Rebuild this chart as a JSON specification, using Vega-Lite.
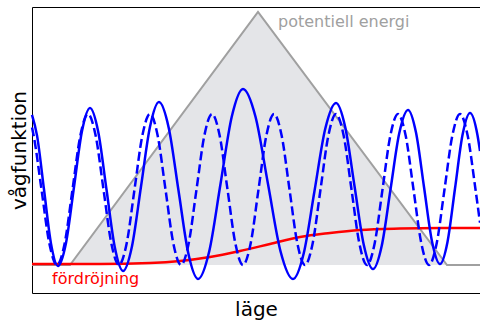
{
  "$schema": "https://vega.github.io/schema/vega-lite/v6.json",
  "width": 448,
  "height": 286,
  "autosize": {"type": "none"},
  "padding": {"left": 32, "top": 7, "right": 0, "bottom": 27},
  "background": "white",
  "config": {
    "view": {"stroke": "black", "strokeWidth": 1},
    "axis": {"labels": false, "ticks": false, "grid": false, "domain": false, "titleFont": "DejaVu Sans", "titleFontSize": 20, "titleFontWeight": "normal", "titleColor": "black"},
    "text": {"font": "DejaVu Sans"}
  },
  "datasets": {
    "potential": [
      {"x": 0, "y": 28}, {"x": 38, "y": 28}, {"x": 226, "y": 281}, {"x": 415, "y": 28}, {"x": 448, "y": 28}
    ],
    "delay": [
      {"x": 0, "y": 29}, {"x": 68, "y": 29}, {"x": 118, "y": 30}, {"x": 148, "y": 32}, {"x": 178, "y": 36},
      {"x": 208, "y": 42}, {"x": 238, "y": 49}, {"x": 268, "y": 56}, {"x": 298, "y": 60}, {"x": 328, "y": 63},
      {"x": 368, "y": 64.5}, {"x": 408, "y": 65}, {"x": 448, "y": 65}
    ],
    "free": [
      {"x": 0, "y": 165.5}, {"x": 1.75, "y": 156.9}, {"x": 9.5, "y": 103.5}, {"x": 17.25, "y": 50.1}, {"x": 25, "y": 28},
      {"x": 32.75, "y": 50.1}, {"x": 40.5, "y": 103.5}, {"x": 48.25, "y": 156.9}, {"x": 56, "y": 179},
      {"x": 63.75, "y": 156.9}, {"x": 71.5, "y": 103.5}, {"x": 79.25, "y": 50.1}, {"x": 87, "y": 28},
      {"x": 94.75, "y": 50.1}, {"x": 102.5, "y": 103.5}, {"x": 110.25, "y": 156.9}, {"x": 118, "y": 179},
      {"x": 125.75, "y": 156.9}, {"x": 133.5, "y": 103.5}, {"x": 141.25, "y": 50.1}, {"x": 149, "y": 28},
      {"x": 156.75, "y": 50.1}, {"x": 164.5, "y": 103.5}, {"x": 172.25, "y": 156.9}, {"x": 180, "y": 179},
      {"x": 187.75, "y": 156.9}, {"x": 195.5, "y": 103.5}, {"x": 203.25, "y": 50.1}, {"x": 211, "y": 28},
      {"x": 218.75, "y": 50.1}, {"x": 226.5, "y": 103.5}, {"x": 234.25, "y": 156.9}, {"x": 242, "y": 179},
      {"x": 249.75, "y": 156.9}, {"x": 257.5, "y": 103.5}, {"x": 265.25, "y": 50.1}, {"x": 273, "y": 28},
      {"x": 280.75, "y": 50.1}, {"x": 288.5, "y": 103.5}, {"x": 296.25, "y": 156.9}, {"x": 304, "y": 179},
      {"x": 311.75, "y": 156.9}, {"x": 319.5, "y": 103.5}, {"x": 327.25, "y": 50.1}, {"x": 335, "y": 28},
      {"x": 342.75, "y": 50.1}, {"x": 350.5, "y": 103.5}, {"x": 358.25, "y": 156.9}, {"x": 366, "y": 179},
      {"x": 373.75, "y": 156.9}, {"x": 381.5, "y": 103.5}, {"x": 389.25, "y": 50.1}, {"x": 397, "y": 28},
      {"x": 404.75, "y": 50.1}, {"x": 412.5, "y": 103.5}, {"x": 420.25, "y": 156.9}, {"x": 428, "y": 179},
      {"x": 435.75, "y": 156.9}, {"x": 443.5, "y": 103.5}, {"x": 448, "y": 70.3}
    ],
    "wave": [
      {"x": 0, "y": 178.1}, {"x": 5, "y": 157.6}, {"x": 12, "y": 103.5}, {"x": 19, "y": 49.4}, {"x": 26, "y": 27},
      {"x": 34, "y": 50.1}, {"x": 42, "y": 106}, {"x": 50, "y": 161.9}, {"x": 58, "y": 185},
      {"x": 66.25, "y": 161.1}, {"x": 74.5, "y": 103.5}, {"x": 82.75, "y": 45.9}, {"x": 91, "y": 22},
      {"x": 100, "y": 46.8}, {"x": 109, "y": 106.5}, {"x": 118, "y": 166.2}, {"x": 127, "y": 191},
      {"x": 136.75, "y": 165.1}, {"x": 146.5, "y": 102.5}, {"x": 156.25, "y": 39.9}, {"x": 166, "y": 14},
      {"x": 177.25, "y": 41.8}, {"x": 188.5, "y": 109}, {"x": 199.75, "y": 176.2}, {"x": 211, "y": 204},
      {"x": 223.5, "y": 176.2}, {"x": 236, "y": 109}, {"x": 248.5, "y": 41.8}, {"x": 261, "y": 14},
      {"x": 271.75, "y": 39.8}, {"x": 282.5, "y": 102}, {"x": 293.25, "y": 164.2}, {"x": 304, "y": 190},
      {"x": 313.25, "y": 165.7}, {"x": 322.5, "y": 107}, {"x": 331.75, "y": 48.3}, {"x": 341, "y": 24},
      {"x": 349.75, "y": 47.3}, {"x": 358.5, "y": 103.5}, {"x": 367.25, "y": 159.7}, {"x": 376, "y": 183},
      {"x": 384, "y": 160.4}, {"x": 392, "y": 106}, {"x": 400, "y": 51.6}, {"x": 408, "y": 29},
      {"x": 415.5, "y": 51.1}, {"x": 423, "y": 104.5}, {"x": 430.5, "y": 157.9}, {"x": 438, "y": 180},
      {"x": 445.5, "y": 157.7}, {"x": 448, "y": 142}
    ],
    "labels": [
      {"x": 246, "y": 266, "label": "potentiell energi", "kind": "pot"},
      {"x": 20, "y": 9, "label": "fördröjning", "kind": "delay"}
    ]
  },
  "encoding": {
    "x": {"field": "x", "type": "quantitative", "scale": {"domain": [0, 448], "nice": false, "zero": false}, "axis": {"title": "läge", "titlePadding": 6}},
    "y": {"field": "y", "type": "quantitative", "scale": {"domain": [0, 286], "nice": false, "zero": false}, "axis": {"title": "vågfunktion", "titlePadding": 3}}
  },
  "layer": [
    {
      "data": {"name": "potential"},
      "mark": {"type": "area", "color": "#e4e5e8", "line": false},
      "encoding": {"y2": {"datum": 28}}
    },
    {
      "data": {"name": "potential"},
      "mark": {"type": "line", "color": "#a0a0a0", "strokeWidth": 2}
    },
    {
      "data": {"name": "delay"},
      "mark": {"type": "line", "color": "#ff0000", "strokeWidth": 2.5, "interpolate": "monotone"}
    },
    {
      "data": {"name": "free"},
      "mark": {"type": "line", "color": "#0000ff", "strokeWidth": 2.5, "strokeDash": [9, 4], "interpolate": "monotone"}
    },
    {
      "data": {"name": "wave"},
      "mark": {"type": "line", "color": "#0000ff", "strokeWidth": 2.5, "interpolate": "monotone"}
    },
    {
      "data": {"name": "labels"},
      "mark": {"type": "text", "align": "left", "baseline": "alphabetic", "fontSize": 16},
      "encoding": {
        "text": {"field": "label"},
        "color": {"field": "kind", "type": "nominal", "scale": {"domain": ["pot", "delay"], "range": ["#a0a0a0", "#ff0000"]}, "legend": null}
      }
    }
  ]
}
